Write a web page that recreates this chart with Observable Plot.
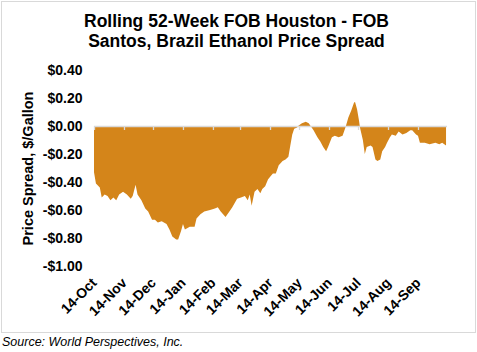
<!DOCTYPE html>
<html><head><meta charset="utf-8">
<script src="https://cdn.jsdelivr.net/npm/d3@7"></script>
<script src="https://cdn.jsdelivr.net/npm/@observablehq/plot@0.6"></script>
<style>
body{margin:0;background:#fff;font-family:"Liberation Sans",Arial,sans-serif;}
#box{position:absolute;left:1px;top:1px;width:473px;height:330px;border:1px solid #d9d9d9;}
#title{position:absolute;left:0;top:12px;width:473px;text-align:center;font-weight:bold;font-size:17.5px;line-height:19.5px;color:#000;}
#chart{position:absolute;left:0;top:0;}
#source{position:absolute;left:2px;top:335px;font-style:italic;font-size:12.5px;line-height:14px;color:#000;white-space:nowrap;}
</style></head>
<body>
<div id="box"></div>
<div id="chart"></div>
<div id="title">Rolling 52-Week FOB Houston - FOB<br>Santos, Brazil Ethanol Price Spread</div>
<div id="source">Source: World Perspectives, Inc.</div>
<script>
const dates = ["2016-10-14","2016-10-16","2016-10-20","2016-10-22","2016-10-25","2016-10-28","2016-10-31","2016-11-03","2016-11-06","2016-11-09","2016-11-13","2016-11-17","2016-11-21","2016-11-23","2016-11-26","2016-11-28","2016-12-02","2016-12-06","2016-12-09","2016-12-13","2016-12-16","2016-12-19","2016-12-23","2016-12-28","2016-12-31","2017-01-03","2017-01-07","2017-01-09","2017-01-12","2017-01-14","2017-01-16","2017-01-21","2017-01-26","2017-01-28","2017-02-01","2017-02-05","2017-02-11","2017-02-16","2017-02-19","2017-02-22","2017-02-27","2017-03-03","2017-03-06","2017-03-11","2017-03-15","2017-03-19","2017-03-22","2017-03-24","2017-03-26","2017-03-29","2017-04-01","2017-04-04","2017-04-06","2017-04-09","2017-04-12","2017-04-17","2017-04-20","2017-04-23","2017-04-27","2017-04-30","2017-05-03","2017-05-05","2017-05-07","2017-05-09","2017-05-12","2017-05-13","2017-05-17","2017-05-21","2017-05-24","2017-05-26","2017-05-29","2017-06-02","2017-06-05","2017-06-08","2017-06-11","2017-06-13","2017-06-17","2017-06-20","2017-06-24","2017-06-28","2017-07-01","2017-07-04","2017-07-07","2017-07-10","2017-07-11","2017-07-13","2017-07-15","2017-07-16","2017-07-19","2017-07-21","2017-07-23","2017-07-27","2017-07-29","2017-08-01","2017-08-03","2017-08-06","2017-08-08","2017-08-11","2017-08-13","2017-08-16","2017-08-18","2017-08-22","2017-08-25","2017-08-29","2017-09-02","2017-09-06","2017-09-08","2017-09-12","2017-09-14","2017-09-16","2017-09-21","2017-09-26","2017-10-02","2017-10-06","2017-10-09","2017-10-13"];
const spread = [-0.33,-0.41,-0.44,-0.51,-0.49,-0.50,-0.53,-0.51,-0.53,-0.49,-0.47,-0.49,-0.52,-0.50,-0.42,-0.49,-0.53,-0.59,-0.61,-0.67,-0.67,-0.69,-0.68,-0.70,-0.74,-0.79,-0.81,-0.81,-0.75,-0.70,-0.74,-0.72,-0.72,-0.66,-0.63,-0.61,-0.60,-0.59,-0.58,-0.61,-0.65,-0.61,-0.58,-0.52,-0.51,-0.50,-0.53,-0.49,-0.57,-0.47,-0.45,-0.48,-0.45,-0.43,-0.38,-0.34,-0.34,-0.28,-0.25,-0.24,-0.22,-0.14,-0.06,-0.02,-0.01,0.00,0.02,0.03,0.02,0.00,-0.03,-0.08,-0.11,-0.15,-0.18,-0.15,-0.08,-0.07,-0.08,-0.07,-0.01,0.06,0.11,0.17,0.17,0.12,0.04,-0.01,-0.10,-0.20,-0.15,-0.14,-0.15,-0.24,-0.25,-0.24,-0.18,-0.15,-0.12,-0.08,-0.06,-0.07,-0.04,-0.06,-0.05,-0.03,-0.03,-0.06,-0.07,-0.12,-0.12,-0.13,-0.12,-0.13,-0.12,-0.14];
const xTickDates = ["2016-10-14","2016-11-14","2016-12-14","2017-01-14","2017-02-14","2017-03-14","2017-04-14","2017-05-14","2017-06-14","2017-07-14","2017-08-14","2017-09-14"];
const xDomain = ["2016-10-14","2017-10-14"];
const yTicks = [-1.0,-0.8,-0.6,-0.4,-0.2,0.0,0.2,0.4];
const yDomain = [-1.0,0.4];
const yTitle = "Price Spread, $/Gallon";

const parse = d3.utcParse("%Y-%m-%d");
const data = dates.map((d,i)=>({date: parse(d), value: spread[i]}));
const ticks = xTickDates.map(parse);
const fmtY = v => (v < 0 ? "-" : "") + "$" + Math.abs(v).toFixed(2);

const chart = Plot.plot({
  width: 477, height: 333,
  marginLeft: 94, marginRight: 30, marginTop: 70, marginBottom: 67,
  style: {fontFamily: '"Liberation Sans", Arial, sans-serif', fontSize: "14px", fontWeight: "bold", color: "#000", background: "transparent", overflow: "visible"},
  x: {type: "utc", domain: xDomain.map(parse), ticks: ticks, tickFormat: d3.utcFormat("%d-%b"), tickRotate: -45, tickSize: 0, tickPadding: 14, label: null},
  y: {domain: yDomain, ticks: yTicks, tickFormat: fmtY, tickSize: 0, tickPadding: 12, label: null},
  marks: [
    Plot.areaY(data, {x: "date", y1: 0, y2: "value", fill: "#D4851A"}),
    Plot.ruleY([0], {stroke: "#d9d9d9", strokeWidth: 1.3}),
    Plot.ruleX(ticks, {x: d => d, y1: 0, y2: 0, insetBottom: -4, stroke: "#d9d9d9", strokeWidth: 1.3}),
    Plot.text([yTitle], {text: d => d, frameAnchor: "left", textAnchor: "middle", rotate: -90, dx: -66, fontSize: 14.5, fontWeight: "bold", fill: "#000"})
  ]
});
document.getElementById("chart").appendChild(chart);
</script>
</body></html>
